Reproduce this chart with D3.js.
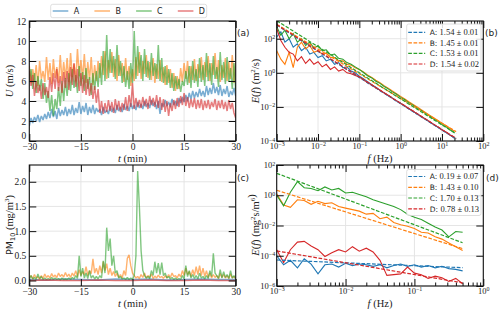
<!DOCTYPE html>
<html>
<head>
<meta charset="utf-8">
<script src="https://cdn.jsdelivr.net/npm/d3@7"></script>
<style>
body { margin: 0; background: #fff; }
svg { display: block; }
.tick text { font-family: "Liberation Serif", serif; font-size: 9.5px; fill: #222; }
.logax .tick text { font-size: 8.5px; }
.lab { font-family: "Liberation Serif", serif; font-size: 10.5px; fill: #222; }
.sans { font-family: "DejaVu Sans", sans-serif; }
</style>
</head>
<body>
<svg id="fig" width="500" height="312"></svg>
<script>
// ---- data ----
var names = ['A', 'B', 'C', 'D'];
var colors = ['#1f77b4', '#ff7f0e', '#2ca02c', '#d62728'];

// (a) wind speed U (m/s), sampled every 0.5 min from -30 to 30
var uA = [1.5,2.3,1.8,2.4,2.0,2.6,1.9,2.5,2.1,2.7,2.2,
  2.9,2.3,3.2,2.4,3.0,2.2,3.3,2.5,3.1,2.6,
  3.4,2.5,3.2,2.7,3.6,2.6,3.3,2.8,3.9,2.7,3.5,2.9,3.8,2.6,3.4,2.8,3.6,2.7,3.3,2.9,
  3.2,2.6,3.4,2.8,3.1,2.7,3.5,2.9,3.3,2.8,3.6,3.0,3.4,2.9,3.7,3.1,3.5,3.0,3.8,3.2,
  3.6,3.1,3.9,3.3,3.7,3.2,4.0,3.4,3.8,3.3,4.1,3.5,3.9,3.2,4.0,2.7,3.8,3.4,4.1,3.5,
  3.9,3.4,4.2,3.6,4.0,3.5,4.3,3.8,4.4,3.9,4.6,4.0,4.8,4.2,5.0,4.3,4.9,4.4,5.2,4.5,
  5.0,4.4,5.5,4.6,5.3,4.7,5.8,4.8,5.4,4.6,5.6,4.5,5.2,4.7,5.5,4.4,5.0,4.6,5.3,4.5];
var uB = [7.5,5.8,7.2,6.0,7.6,5.5,8.0,6.2,7.0,5.9,8.4,
  6.1,7.8,5.7,8.2,6.3,7.4,5.8,8.6,6.0,7.9,
  6.2,8.3,5.9,8.8,6.4,7.7,6.0,9.2,6.5,8.1,6.2,8.7,5.8,7.9,6.1,8.4,5.6,7.6,6.0,8.0,
  6.3,8.5,6.6,9.0,6.2,8.1,6.8,8.9,6.4,8.2,6.0,8.6,6.5,7.8,5.9,8.3,6.1,7.5,5.5,7.2,
  6.0,8.4,6.5,8.9,6.2,8.0,6.7,8.6,6.3,7.9,6.1,8.3,5.8,7.7,6.2,8.1,5.9,7.4,5.6,7.6,
  5.8,7.2,5.3,6.8,5.0,6.5,5.2,7.3,5.9,7.8,6.2,8.0,5.8,7.5,6.1,8.2,6.0,7.7,6.3,8.4,
  6.1,7.9,6.4,8.5,6.0,7.8,6.6,8.8,6.2,8.1,5.9,7.6,6.3,8.3,6.0,7.9,6.2,8.6,5.8,7.8];
var uC = [6.0,7.2,5.2,6.8,4.8,6.5,5.0,6.2,4.2,5.8,3.8,
  5.0,3.0,4.6,2.5,4.2,3.2,5.4,3.5,6.0,4.0,
  6.3,4.5,6.8,5.0,7.2,5.3,6.6,4.8,7.5,5.5,6.9,5.0,7.3,5.2,6.4,4.6,6.8,5.1,7.0,5.4,
  7.8,5.6,9.0,6.0,10.6,6.3,9.2,6.8,8.5,6.2,9.6,6.5,8.0,5.8,7.5,5.4,7.0,5.2,7.8,5.8,
  11.0,6.2,9.5,6.8,8.6,6.0,9.2,6.4,8.0,6.1,8.8,6.5,7.8,6.2,9.6,6.0,8.3,5.8,7.5,5.6,
  7.2,5.3,6.8,5.0,6.5,5.2,6.2,4.9,6.0,5.5,7.0,5.6,7.5,5.3,8.0,5.8,7.2,5.4,8.3,5.9,
  7.6,5.5,8.8,6.0,7.8,5.6,8.5,6.2,7.4,5.4,8.9,6.1,7.9,5.7,8.4,5.9,7.3,5.2,7.8,5.0];
var uD = [7.0,5.5,6.6,4.5,6.0,4.8,5.6,4.2,5.8,4.6,5.4,
  4.3,6.4,4.9,6.8,5.2,7.2,5.0,6.5,4.8,6.9,
  5.3,7.0,5.1,7.4,5.6,7.8,5.4,7.2,5.0,6.8,4.8,6.6,4.6,6.2,4.5,5.8,4.2,5.5,3.8,5.2,
  2.8,4.0,2.7,3.8,2.9,4.1,3.0,3.9,2.8,4.2,3.1,4.0,2.9,3.8,3.1,4.4,3.0,4.6,3.4,5.8,
  3.2,4.3,3.4,4.1,3.3,4.4,3.5,4.2,3.2,4.5,3.6,4.3,3.4,4.6,3.3,4.4,3.1,4.2,2.9,4.0,
  2.5,3.8,3.0,4.1,3.2,4.3,3.4,4.5,3.6,4.8,3.5,4.4,3.3,4.2,3.4,4.3,3.2,4.1,3.3,4.2,
  3.1,4.0,3.3,4.1,3.2,3.9,3.4,4.2,3.1,4.0,3.3,4.1,3.2,3.9,3.0,4.1,3.2,3.8,2.8,2.3];

// (c) PM10 (mg/m3)
var pmA = [0.02,0.01,0.03,0.02,0.01,0.03,0.02,0.03,0.01,0.02,0.03,0.02,0.02];
var pmB = [0.05,0.10,0.03,0.12,0.05,0.08,0.02,0.10,0.04,0.13,0.06,
  0.10,0.05,0.14,0.07,0.11,0.06,0.15,0.08,0.12,0.07,
  0.16,0.08,0.13,0.06,0.15,0.09,0.20,0.08,0.22,0.10,0.18,0.12,0.28,0.10,0.20,0.14,0.44,0.15,0.25,0.12,
  0.30,0.15,0.38,0.20,0.34,0.12,0.25,0.10,0.18,0.08,0.15,0.06,0.12,0.05,0.20,0.10,0.45,0.52,0.30,0.15,
  0.10,0.05,0.08,0.04,0.12,0.06,0.15,0.05,0.10,0.06,0.13,0.04,0.09,0.05,0.11,0.06,0.08,0.04,0.10,0.05,
  0.12,0.06,0.15,0.08,0.10,0.05,0.13,0.07,0.20,0.10,0.25,0.12,0.18,0.08,0.22,0.10,0.28,0.12,0.30,0.10,
  0.25,0.08,0.20,0.06,0.15,0.05,0.12,0.06,0.10,0.04,0.14,0.06,0.12,0.05,0.10,0.04,0.13,0.05,0.08,0.04];
var pmC = [0.02,0.10,0.03,0.06,0.02,0.13,0.04,0.08,0.02,0.05,0.02,
  0.04,0.02,0.06,0.02,0.05,0.02,0.04,0.01,0.05,0.02,
  0.03,0.02,0.05,0.02,0.06,0.03,0.10,0.04,0.50,0.08,0.25,0.05,0.15,0.04,0.20,0.05,0.10,0.03,0.08,0.03,
  0.10,0.05,0.40,0.15,1.07,0.60,0.85,0.30,0.50,0.15,0.20,0.05,0.08,0.03,0.05,0.02,0.06,0.02,0.05,0.02,
  0.10,0.50,2.22,1.50,0.60,0.20,0.10,0.05,0.08,0.04,0.20,0.10,0.38,0.15,0.35,0.12,0.36,0.10,0.15,0.05,
  0.08,0.03,0.06,0.02,0.05,0.02,0.04,0.02,0.10,0.03,0.30,0.08,0.20,0.05,0.12,0.04,0.10,0.03,0.15,0.05,
  0.08,0.03,0.10,0.04,0.20,0.08,0.55,0.15,0.10,0.04,0.22,0.05,0.18,0.06,0.12,0.04,0.20,0.05,0.10,0.03];
var pmD = [0.00,0.01,0.00,0.00,0.01,0.00,0.00,0.01,0.00,0.00,0.01,0.00,0.00];

// (b) wind spectra: frequencies (Hz) and log10 E(f)
var freqB = [0.001,0.00126,0.00158,0.002,0.00251,0.00316,0.00398,0.00501,0.00631,0.00794,
  0.01,0.0126,0.0158,0.02,0.0251,0.0316,0.0398,0.0501,0.0631,0.0794,
  0.1,0.126,0.158,0.2,0.251,0.316,0.398,0.501,0.631,0.794,
  1,1.26,1.58,2,2.51,3.16,3.98,5.01,6.31,7.94,10,12.6,15.8,20];
var specB_A = [2.1,2.4,1.8,2.0,1.5,1.7,1.3,1.5,1.1,1.2,0.9,1.0,0.7,0.8,0.5,0.6,0.3,0.35,0.1,0.0,-0.2,
  -0.35,-0.52,-0.70,-0.85,-1.03,-1.16,-1.35,-1.47,-1.66,-1.78,-1.96,-2.09,-2.27,-2.40,-2.58,-2.71,-2.89,-3.03,-3.20,-3.34,-3.50,-3.65,-3.84];
var specB_B = [1.3,0.8,0.5,1.2,0.3,1.5,1.8,1.4,1.6,1.2,1.3,1.1,1.15,0.9,0.9,0.7,0.7,0.5,0.45,0.3,0.2,
  0.05,-0.12,-0.27,-0.44,-0.58,-0.75,-0.90,-1.07,-1.22,-1.38,-1.54,-1.70,-1.85,-2.01,-2.17,-2.32,-2.48,-2.64,-2.79,-2.95,-3.11,-3.27,-3.42];
var specB_C = [2.7,2.2,2.5,2.0,2.3,1.8,2.0,1.6,1.8,1.45,1.6,1.3,1.35,1.05,1.1,0.85,0.8,0.6,0.5,0.35,0.2,
  0.02,-0.17,-0.30,-0.49,-0.62,-0.80,-0.94,-1.12,-1.26,-1.44,-1.58,-1.76,-1.90,-2.07,-2.21,-2.39,-2.53,-2.71,-2.85,-3.03,-3.17,-3.35,-3.49];
var specB_D = [2.6,1.9,1.5,1.2,1.1,0.7,0.95,0.55,0.8,0.5,0.65,0.35,0.5,0.2,0.35,0.1,0.2,0.0,-0.05,-0.15,-0.25,
  -0.40,-0.58,-0.70,-0.89,-1.01,-1.19,-1.32,-1.50,-1.63,-1.80,-1.93,-2.11,-2.24,-2.42,-2.55,-2.73,-2.86,-3.04,-3.17,-3.35,-3.47,-3.66,-3.78];
var fitFreqB = [0.001, 22];
var fitStartB = [2.80, 2.84, 3.06, 2.83];
var fitEndB = [-3.88, -3.45, -3.58, -3.85];
var fitTextB = ['1.54 \u00b1 0.01', '1.45 \u00b1 0.01', '1.53 \u00b1 0.01', '1.54 \u00b1 0.02'];

// (d) PM10 spectra
var freqD = freqB.slice(0, 28);
var specD_A = [-4.0,-4.6,-4.3,-4.8,-4.2,-4.55,-5.2,-4.6,-4.55,-4.75,-4.5,-4.65,-4.55,-4.6,-4.7,-4.6,-4.8,-4.65,-4.55,-4.7,-4.6,-4.75,-4.65,-4.8,-4.7,-4.85,-4.9,-5.0];
var specD_B = [0.1,-0.65,-0.8,-0.3,-0.35,-0.6,-0.4,-0.55,-0.5,-0.75,-0.85,-0.95,-1.05,-1.25,-1.2,-1.55,-1.45,-1.8,-1.95,-2.05,-2.2,-2.45,-2.5,-2.75,-2.9,-3.15,-3.4,-3.65];
var specD_C = [0.0,-0.7,0.2,0.9,0.5,0.45,0.3,0.55,0.35,0.45,0.15,0.2,0.05,-0.1,-0.3,-0.45,-0.6,-0.75,-0.95,-1.25,-1.45,-1.6,-1.85,-2.1,-2.3,-2.75,-2.4,-2.45];
var specD_D = [-3.6,-4.45,-3.6,-3.1,-3.05,-3.35,-3.6,-4.05,-3.8,-3.6,-3.75,-3.4,-3.7,-3.5,-3.75,-4.3,-5.3,-5.25,-5.2,-4.75,-5.15,-5.25,-5.5,-5.35,-5.45,-5.7,-5.5,-5.85];
var fitFreqD = [0.001, 0.5];
var fitStartD = [-4.28, 0.33, 1.45, -3.68];
var fitEndD = [-4.79, -3.53, -3.14, -5.79];
var fitTextD = ['0.19 \u00b1 0.07', '1.43 \u00b1 0.10', '1.70 \u00b1 0.13', '0.78 \u00b1 0.13'];

var tTicks = [-30, -15, 0, 15, 30];
var uTicks = [0, 2, 4, 6, 8, 10, 12];
var pmTicks = [0, 0.5, 1, 1.5, 2];

// ---- drawing ----
var svg = d3.select('#fig');

var xA = d3.scaleLinear().domain([-30, 30]).range([29.3, 235.7]);
var yA = d3.scaleLinear().domain([0, 12]).range([141, 21]);
var xC = xA;
var yC = d3.scaleLinear().domain([-0.112, 2.34]).range([286, 165]);
var xB = d3.scaleLog().domain([1e-3, 1e2]).range([276.7, 483.3]);
var yB = d3.scaleLog().domain([1e-4, Math.pow(10, 3.04)]).range([141, 21]);
var xD = d3.scaleLog().domain([1e-3, 1]).range([276.7, 483.3]);
var yD = d3.scaleLog().domain([1e-6, 1e2]).range([286, 165]);

function isDecade(d) { var l = Math.log10(d); return Math.abs(l - Math.round(l)) < 1e-6; }
function expText(d) { var e = Math.round(Math.log10(d)); return (e < 0 ? '\u2212' + (-e) : '' + e); }

function gridAndClip(id, x, y, xg, yg) {
  var g = svg.append('g');
  var r0 = x.range(), r1 = y.range();
  g.selectAll('line.gx').data(xg).enter().append('line')
    .attr('x1', d => x(d)).attr('x2', d => x(d)).attr('y1', r1[0]).attr('y2', r1[1])
    .attr('stroke', '#e2e2e2').attr('stroke-width', 0.9);
  g.selectAll('line.gy').data(yg).enter().append('line')
    .attr('y1', d => y(d)).attr('y2', d => y(d)).attr('x1', r0[0]).attr('x2', r0[1])
    .attr('stroke', '#e2e2e2').attr('stroke-width', 0.9);
  svg.append('clipPath').attr('id', 'clip-' + id).append('rect')
    .attr('x', r0[0]).attr('y', r1[1]).attr('width', r0[1] - r0[0]).attr('height', r1[0] - r1[1]);
  return svg.append('g').attr('clip-path', 'url(#clip-' + id + ')');
}

function supLabels(sel) {
  sel.selectAll('.tick text').each(function(d) {
    var t = d3.select(this).text('');
    t.append('tspan').text('10');
    t.append('tspan').attr('dy', '-0.45em').style('font-size', '6px').text(expText(d));
  });
}

function axes(x, y, o) {
  var r0 = x.range(), r1 = y.range();
  var ax = svg.append('g').attr('class', o.log ? 'logax' : 'linax');
  var bx = ax.append('g').attr('transform', `translate(0,${r1[0]})`)
    .call(d3.axisBottom(x).tickValues(o.xMajor).tickSize(-7).tickSizeOuter(0).tickPadding(2).tickFormat(o.xFmt || null));
  var lx = ax.append('g').attr('transform', `translate(${r0[0]},0)`)
    .call(d3.axisLeft(y).tickValues(o.yMajor).tickSize(-7).tickSizeOuter(0).tickPadding(o.log ? 1.5 : 3).tickFormat(o.yFmt || null));
  ax.append('g').attr('transform', `translate(0,${r1[1]})`)
    .call(d3.axisTop(x).tickValues(o.xMajor).tickSize(-7).tickSizeOuter(0).tickFormat(''));
  ax.append('g').attr('transform', `translate(${r0[1]},0)`)
    .call(d3.axisRight(y).tickValues(o.yMajor).tickSize(-7).tickSizeOuter(0).tickFormat(''));
  if (o.log) {
    supLabels(bx); supLabels(lx);
    var minor = x.ticks().filter(d => !isDecade(d));
    ax.append('g').attr('transform', `translate(0,${r1[0]})`)
      .call(d3.axisBottom(x).tickValues(minor).tickSize(-3.5).tickSizeOuter(0).tickFormat(''));
    ax.append('g').attr('transform', `translate(0,${r1[1]})`)
      .call(d3.axisTop(x).tickValues(minor).tickSize(-3.5).tickSizeOuter(0).tickFormat(''));
  } else if (o.liftFirst) {
    // lowest y label sits a touch higher so it clears the first x label
    lx.selectAll('.tick text').filter((d, i) => i === 0).attr('dy', '-0.25em');
  }
  ax.selectAll('.domain').remove();
  ax.selectAll('.tick line').attr('stroke', '#111').attr('stroke-width', 1);
  ax.append('rect').attr('x', r0[0]).attr('y', r1[1]).attr('width', r0[1] - r0[0]).attr('height', r1[0] - r1[1])
    .attr('fill', 'none').attr('stroke', '#111').attr('stroke-width', 1.1);
}

// panel (a)
var plotA = gridAndClip('a', xA, yA, tTicks, uTicks);
[uA, uB, uC, uD].forEach(function(s, k) {
  var line = d3.line().x((d, i) => xA(-30 + i * 60 / (s.length - 1))).y(d => yA(d));
  plotA.append('path').attr('d', line(s)).attr('fill', 'none')
    .attr('stroke', colors[k]).attr('stroke-opacity', 0.6).attr('stroke-width', 1.5)
    .attr('stroke-linejoin', 'bevel');
});
axes(xA, yA, { xMajor: tTicks, yMajor: uTicks, xFmt: d3.format('d'), yFmt: d3.format('d'), liftFirst: true });

// panel (c)
var plotC = gridAndClip('c', xC, yC, tTicks, pmTicks);
[pmA, pmB, pmC, pmD].forEach(function(s, k) {
  var line = d3.line().x((d, i) => xC(-30 + i * 60 / (s.length - 1))).y(d => yC(d));
  plotC.append('path').attr('d', line(s)).attr('fill', 'none')
    .attr('stroke', colors[k]).attr('stroke-opacity', 0.6).attr('stroke-width', 1.4)
    .attr('stroke-linejoin', 'bevel');
});
axes(xC, yC, { xMajor: tTicks, yMajor: pmTicks, xFmt: d3.format('d'), yFmt: d3.format('.1f') });

// panels (b) and (d)
function spectra(id, x, y, freq, specs, fitF, fitS, fitE, xMajor, yMajor) {
  var plot = gridAndClip(id, x, y, xMajor, yMajor);
  var line = d3.line().x(d => x(d[0])).y(d => y(Math.pow(10, d[1])));
  specs.forEach(function(s, k) {
    plot.append('path').attr('d', line(freq.map((f, i) => [f, s[i]]))).attr('fill', 'none')
      .attr('stroke', colors[k]).attr('stroke-width', 1.1);
  });
  fitS.forEach(function(v, k) {
    plot.append('path').attr('d', line([[fitF[0], v], [fitF[1], fitE[k]]])).attr('fill', 'none')
      .attr('stroke', colors[k]).attr('stroke-width', 1.2).attr('stroke-dasharray', '3.7,1.6');
  });
  axes(x, y, { xMajor: xMajor, yMajor: yMajor, log: true });
}
spectra('b', xB, yB, freqB, [specB_A, specB_B, specB_C, specB_D], fitFreqB, fitStartB, fitEndB,
  [1e-3, 1e-2, 1e-1, 1, 10, 100], [1e-4, 1e-2, 1, 100]);
spectra('d', xD, yD, freqD, [specD_A, specD_B, specD_C, specD_D], fitFreqD, fitStartD, fitEndD,
  [1e-3, 1e-2, 1e-1, 1], [1e-6, 1e-4, 1e-2, 1, 100]);

// legends
var legA = svg.append('g');
legA.append('rect').attr('x', 50.7).attr('y', 4.3).attr('width', 156).attr('height', 13.4).attr('rx', 2)
  .attr('fill', '#fff').attr('stroke', '#d5d5d5').attr('stroke-width', 0.8);
names.forEach(function(n, k) {
  var x0 = 52.7 + k * 41.7;
  legA.append('line').attr('x1', x0).attr('x2', x0 + 15.6).attr('y1', 11).attr('y2', 11)
    .attr('stroke', colors[k]).attr('stroke-opacity', 0.6).attr('stroke-width', 1.5);
  legA.append('text').attr('class', 'sans').attr('x', x0 + 21).attr('y', 14)
    .style('font-size', '8px').attr('fill', '#222').text(n);
});

function fitLegend(x0, y0, h, rows, texts) {
  var g = svg.append('g');
  g.append('rect').attr('x', x0).attr('y', y0).attr('width', 74.3).attr('height', h).attr('rx', 2)
    .attr('fill', '#fff').attr('fill-opacity', 0.85).attr('stroke', '#d5d5d5').attr('stroke-width', 0.8);
  names.forEach(function(n, k) {
    var yy = rows[k];
    g.append('line').attr('x1', x0 + 1.5).attr('x2', x0 + 18.5).attr('y1', yy).attr('y2', yy)
      .attr('stroke', colors[k]).attr('stroke-width', 1.2).attr('stroke-dasharray', '3.7,1.6');
    var t = g.append('text').attr('x', x0 + 23).attr('y', yy + 2.8).attr('fill', '#222');
    t.append('tspan').attr('class', 'sans').style('font-size', '7.5px').text(n + ': ');
    t.append('tspan').style('font-family', '"Liberation Serif", serif').style('font-size', '8.5px').text(texts[k]);
  });
}
fitLegend(406.7, 24, 47, [32.3, 42.9, 53.4, 64], fitTextB);
fitLegend(406.7, 169.5, 46, [176.5, 187.3, 198, 208.8], fitTextD);

// panel tags
[['(a)', 237, 36], ['(b)', 485, 36], ['(c)', 237, 181], ['(d)', 486, 181]].forEach(function(p) {
  svg.append('text').attr('class', 'sans').attr('x', p[1]).attr('y', p[2])
    .style('font-size', '9px').attr('fill', '#222').text(p[0]);
});

// axis labels
function xLabel(x, y, v, unit) {
  var t = svg.append('text').attr('class', 'lab').attr('x', x).attr('y', y).attr('text-anchor', 'middle');
  t.append('tspan').style('font-style', 'italic').text(v);
  t.append('tspan').text(' (' + unit + ')');
}
xLabel(132.5, 161.5, 't', 'min');
xLabel(132.5, 307, 't', 'min');
xLabel(380, 161.5, 'f', 'Hz');
xLabel(380, 307, 'f', 'Hz');

var ly = svg.append('text').attr('class', 'lab').attr('text-anchor', 'middle')
  .attr('transform', 'translate(13,81) rotate(-90)');
ly.append('tspan').style('font-style', 'italic').text('U');
ly.append('tspan').text(' (m/s)');

var lc = svg.append('text').attr('class', 'lab').attr('text-anchor', 'middle')
  .attr('transform', 'translate(13,225) rotate(-90)');
lc.append('tspan').attr('class', 'sans').style('font-size', '9.5px').text('PM');
lc.append('tspan').attr('class', 'sans').attr('dy', '2').style('font-size', '6.5px').text('10');
lc.append('tspan').attr('dy', '-2').text(' (mg/m');
lc.append('tspan').attr('dy', '-4').style('font-size', '7px').text('3');
lc.append('tspan').attr('dy', '4').text(')');

function eLabel(cy, unitParts) {
  var t = svg.append('text').attr('class', 'lab').attr('text-anchor', 'middle')
    .attr('transform', `translate(259,${cy}) rotate(-90)`);
  t.append('tspan').style('font-style', 'italic').text('E');
  t.append('tspan').text('(');
  t.append('tspan').style('font-style', 'italic').text('f');
  t.append('tspan').text(') (');
  unitParts.forEach(function(p) {
    if (p[1]) t.append('tspan').attr('dy', '-4').style('font-size', '7px').text(p[0]);
    else t.append('tspan').attr('dy', p[2] ? '4' : '0').text(p[0]);
  });
  t.append('tspan').text(')');
}
eLabel(81, [['m'], ['2', true], ['/s', false, true]]);
eLabel(225, [['mg'], ['2', true], ['s/m', false, true], ['6', true], ['', false, true]]);
</script>
</body>
</html>
